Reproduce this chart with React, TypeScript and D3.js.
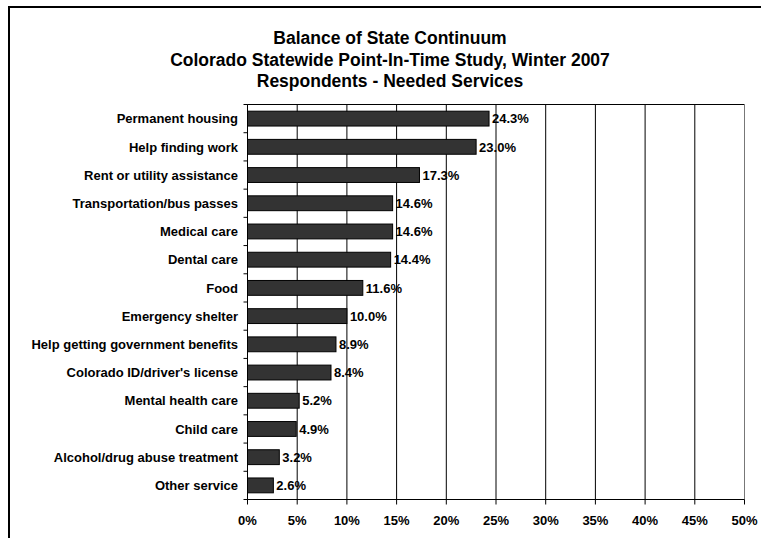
import React, { useEffect } from "react";
import * as d3 from "d3";

const categories = [
  "Permanent housing",
  "Help finding work",
  "Rent or utility assistance",
  "Transportation/bus passes",
  "Medical care",
  "Dental care",
  "Food",
  "Emergency shelter",
  "Help getting government benefits",
  "Colorado ID/driver's license",
  "Mental health care",
  "Child care",
  "Alcohol/drug abuse treatment",
  "Other service",
];
const values = [24.3, 23.0, 17.3, 14.6, 14.6, 14.4, 11.6, 10.0, 8.9, 8.4, 5.2, 4.9, 3.2, 2.6];
const xTicks = [0, 5, 10, 15, 20, 25, 30, 35, 40, 45, 50];
const titleLines = [
  "Balance of State Continuum",
  "Colorado Statewide Point-In-Time Study, Winter 2007",
  "Respondents - Needed Services",
];

const W = 761;
const H = 538;
const left = 247.5;
const right = 744.5;
const top = 104.5;
const bottom = 499.5;
const font = "Arial, 'Liberation Sans', Helvetica, sans-serif";

export default function App() {
  useEffect(() => {
    document.body.style.margin = "0";
    document.body.style.overflow = "hidden";
    document.documentElement.style.overflow = "hidden";
  }, []);

  const x = d3.scaleLinear().domain([0, 50]).range([left, right]);
  const y = d3
    .scaleBand<string>()
    .domain(categories)
    .range([top, bottom])
    .paddingInner(0.9 / 1.9)
    .paddingOuter(0.45 / 1.9);
  const band = (bottom - top) / categories.length;

  return (
    <svg
      width={W}
      height={H}
      style={{ position: "absolute", left: 0, top: 0, display: "block", background: "#fff" }}
      fontFamily={font}
    >
      <line x1={9} x2={W} y1={7} y2={7} stroke="#000" strokeWidth={2} />
      <line x1={9} x2={9} y1={6} y2={H} stroke="#000" strokeWidth={2} />
      {titleLines.map((t, i) => (
        <text
          key={i}
          x={390}
          y={44 + i * 21.5}
          textAnchor="middle"
          fontSize={17.5}
          fontWeight="bold"
          fill="#000"
        >
          {t}
        </text>
      ))}
      {/* plot area top border */}
      <line x1={left} x2={right} y1={top} y2={top} stroke="#000" strokeWidth={1} />
      {/* gridlines */}
      {xTicks.map((t) => (
        <line key={"g" + t} x1={x(t)} x2={x(t)} y1={top} y2={bottom} stroke={t === 50 ? "#777" : "#000"} strokeWidth={1} />
      ))}
      {/* bars */}
      {categories.map((c, i) => (
        <rect
          key={"b" + c}
          x={x(0)}
          y={y(c)!}
          width={x(values[i]) - x(0)}
          height={y.bandwidth()}
          fill="#333333"
          stroke="#000"
          strokeWidth={1}
        />
      ))}
      {/* value labels */}
      {categories.map((c, i) => (
        <text
          key={"v" + c}
          x={x(values[i]) + 3}
          y={y(c)! + y.bandwidth() / 2}
          dy="0.36em"
          fontSize={13}
          fontWeight="bold"
          fill="#000"
        >
          {values[i].toFixed(1) + "%"}
        </text>
      ))}
      {/* axes */}
      <line x1={left} x2={left} y1={top} y2={bottom} stroke="#000" strokeWidth={1} />
      <line x1={left} x2={right} y1={bottom} y2={bottom} stroke="#000" strokeWidth={1} />
      {d3.range(categories.length + 1).map((i) => (
        <line
          key={"yt" + i}
          x1={left - 4}
          x2={left}
          y1={top + i * band}
          y2={top + i * band}
          stroke="#000"
          strokeWidth={1}
        />
      ))}
      {xTicks.map((t) => (
        <line key={"xt" + t} x1={x(t)} x2={x(t)} y1={bottom} y2={bottom + 5} stroke="#000" strokeWidth={1} />
      ))}
      {xTicks.map((t) => (
        <text
          key={"xl" + t}
          x={x(t)}
          y={525}
          textAnchor="middle"
          fontSize={13}
          fontWeight="bold"
          fill="#000"
        >
          {t + "%"}
        </text>
      ))}
      {categories.map((c) => (
        <text
          key={"c" + c}
          x={238}
          y={y(c)! + y.bandwidth() / 2}
          dy="0.36em"
          textAnchor="end"
          fontSize={13}
          fontWeight="bold"
          fill="#000"
        >
          {c}
        </text>
      ))}
    </svg>
  );
}
